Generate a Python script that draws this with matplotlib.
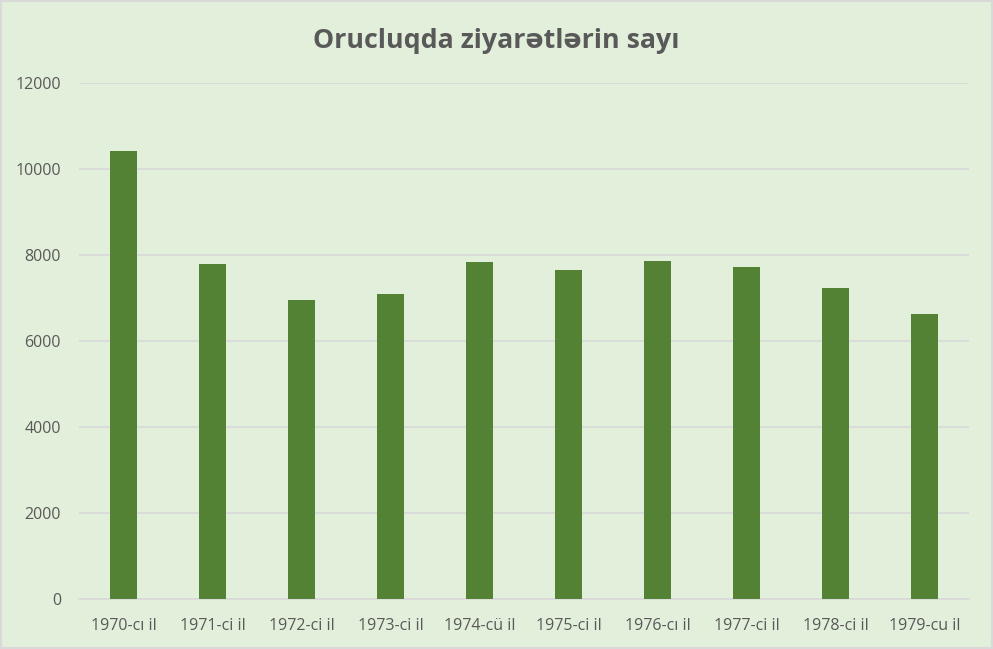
import matplotlib.pyplot as plt
from matplotlib.patches import Rectangle

years = ['1970-cı il', '1971-ci il', '1972-ci il', '1973-ci il', '1974-cü il',
         '1975-ci il', '1976-cı il', '1977-ci il', '1978-ci il', '1979-cu il']
visits = [10430, 7800, 6940, 7100, 7830, 7660, 7870, 7730, 7240, 6620]
yticks = [0, 2000, 4000, 6000, 8000, 10000, 12000]

bg = '#E2EFDA'
txt = '#595959'
grid = '#D9D9D9'

plt.rcParams['font.family'] = ['Open Sans', 'DejaVu Sans']

fig = plt.figure(figsize=(9.93, 6.49), dpi=100, facecolor=bg)
ax = fig.add_axes([0.0796, 0.0778, 0.8964, 0.794])
ax.set_facecolor(bg)

x = range(len(years))
ax.bar(x, visits, width=0.31, color='#548235', zorder=3)

ax.set_xlim(-0.5, len(years) - 0.5)
ax.set_ylim(0, 12000)
ax.set_yticks(yticks)
ax.set_yticklabels([str(v) for v in yticks], color=txt, fontsize=11.5)
ax.set_xticks(list(x))
ax.set_xticklabels(years, color=txt, fontsize=11.5)
ax.tick_params(length=0)
ax.tick_params(axis='y', pad=13)
ax.tick_params(axis='x', pad=14)

ax.grid(axis='y', color=grid, linewidth=1.2, zorder=0)
for s in ['top', 'right', 'left']:
    ax.spines[s].set_visible(False)
ax.spines['bottom'].set_color(grid)
ax.spines['bottom'].set_linewidth(1.2)

fig.text(0.5, 0.937, 'Orucluqda ziyarətlərin sayı', ha='center', va='center',
         fontsize=19.3, fontweight='bold', color=txt)

fig.patches.append(Rectangle((0.001, 0.001), 0.998, 0.998, transform=fig.transFigure,
                             fill=False, edgecolor=grid, linewidth=1.5))

fig.savefig('out.png', dpi=100, facecolor=bg)
